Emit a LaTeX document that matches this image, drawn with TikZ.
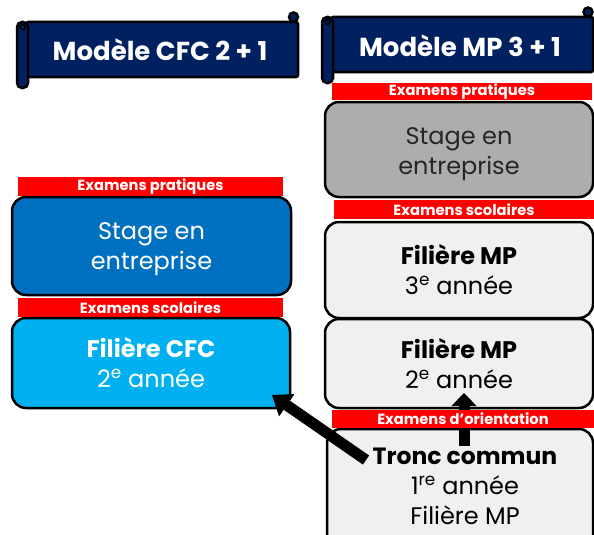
\documentclass[tikz,border=0pt]{standalone}
\usepackage{fontspec}
\setmainfont{Poppins}
\usetikzlibrary{arrows.meta}
\definecolor{navy}{HTML}{002060}
\definecolor{darkblue}{HTML}{0070C0}
\definecolor{lightblue}{HTML}{00B0F0}
\definecolor{midgray}{HTML}{ADADAD}
\definecolor{palegray}{HTML}{F0F0F0}
\definecolor{ink}{HTML}{262626}
\definecolor{barred}{HTML}{FF0000}
\tikzset{
  box/.style={draw=black, line width=2.5pt, rounded corners=14pt, inner sep=0pt, align=center,
    font=\fontsize{24}{30}\selectfont},
  boxtext/.style={inner sep=0pt, align=center, font=\fontsize{24}{30}\selectfont},
  redbar/.style={fill=barred, inner sep=0pt, text=white, font=\bfseries\fontsize{14.7}{14.7}\selectfont},
  scrollpart/.style={fill=navy, draw=black, line width=2.5pt},
  bannertext/.style={text=white, font=\bfseries\fontsize{26}{26}\selectfont},
  bigarrow/.style={line width=11pt, -{Triangle[length=18pt,width=27pt,line width=1pt]}},
  uparrow/.style={line width=11pt, -{Triangle[length=13pt,width=25pt,line width=1pt]}}
}
\begin{document}
\begin{tikzpicture}[x=1pt,y=-1pt]
\useasboundingbox (0,0) rectangle (594,535);
\clip (0,0) rectangle (594,535);

% left banner
\draw[scrollpart, rounded corners=2pt] (26,22) rectangle (298,77);
\draw[scrollpart] (293.5,17) circle (4.5);
\draw[scrollpart, rounded corners=5pt] (17,22) rectangle (28,88);
\draw[line width=1.5pt] (22.5,27) circle (2.5);
\node[bannertext] (titleL) at (160,50) {Modèle CFC 2 + 1};

% right banner
\draw[scrollpart, rounded corners=2pt] (331,17) rectangle (593,72);
\draw[scrollpart] (588,12) circle (4.5);
\draw[scrollpart, rounded corners=5pt] (322,17) rectangle (333,83);
\draw[line width=1.5pt] (327.5,22) circle (2.5);
\node[bannertext] (titleR) at (460,46) {Modèle MP 3 + 1};

% left column
\node[redbar, minimum width=265pt, minimum height=19pt] (redL1) at (150.5,186.5) {Examens pratiques};
\node[box, fill=darkblue, minimum width=279pt, minimum height=98pt] (stageL) at (151.5,246) {};
\node[boxtext, text=white] (stageLText) at (151.5,249) {Stage en\\entreprise};
\node[redbar, minimum width=265pt, minimum height=19pt] (redL2) at (150.5,307.5) {Examens scolaires};
\node[box, fill=lightblue, text=white, minimum width=278pt, minimum height=90pt] (cfc) at (151,363) {\textbf{Filière CFC}\\2\textsuperscript{e} année};

% right column
\node[redbar, minimum width=260pt, minimum height=17pt] (redR1) at (462,91.5) {Examens pratiques};
\node[box, fill=midgray, minimum width=268pt, minimum height=95pt] (stageR) at (459,149.5) {};
\node[boxtext, text=ink] (stageRText) at (459,154) {Stage en\\entreprise};
\node[redbar, minimum width=260pt, minimum height=19pt] (redR2) at (464,209.5) {Examens scolaires};
\node[box, fill=palegray, text=black, minimum width=268pt, minimum height=96pt] (mp3) at (459,270) {\textbf{Filière MP}\\3\textsuperscript{e} année};
\node[box, fill=palegray, text=black, minimum width=268pt, minimum height=89pt] (mp2) at (459,363.5) {\textbf{Filière MP}\\2\textsuperscript{e} année};
\node[box, fill=palegray, minimum width=266pt, minimum height=141pt] (tronc) at (460,499.5) {};

% vertical arrow, behind the orientation bar
\coordinate (upS) at (464,446);
\coordinate (upE) at (464,393);
\draw[uparrow] (upS) -- (upE);

\node[redbar, minimum width=262pt, minimum height=18pt] (redR3) at (463,419) {Examens d’orientation};

% diagonal arrow
\coordinate (arrS) at (366,460);
\coordinate (arrE) at (272,395);
\draw[bigarrow] (arrS) -- (arrE);

\node[boxtext, text=black] (troncText) at (465,486) {\textbf{\fontsize{23.5}{30}\selectfont Tronc commun}\\1\textsuperscript{re} année\\Filière MP};
\end{tikzpicture}
\end{document}
